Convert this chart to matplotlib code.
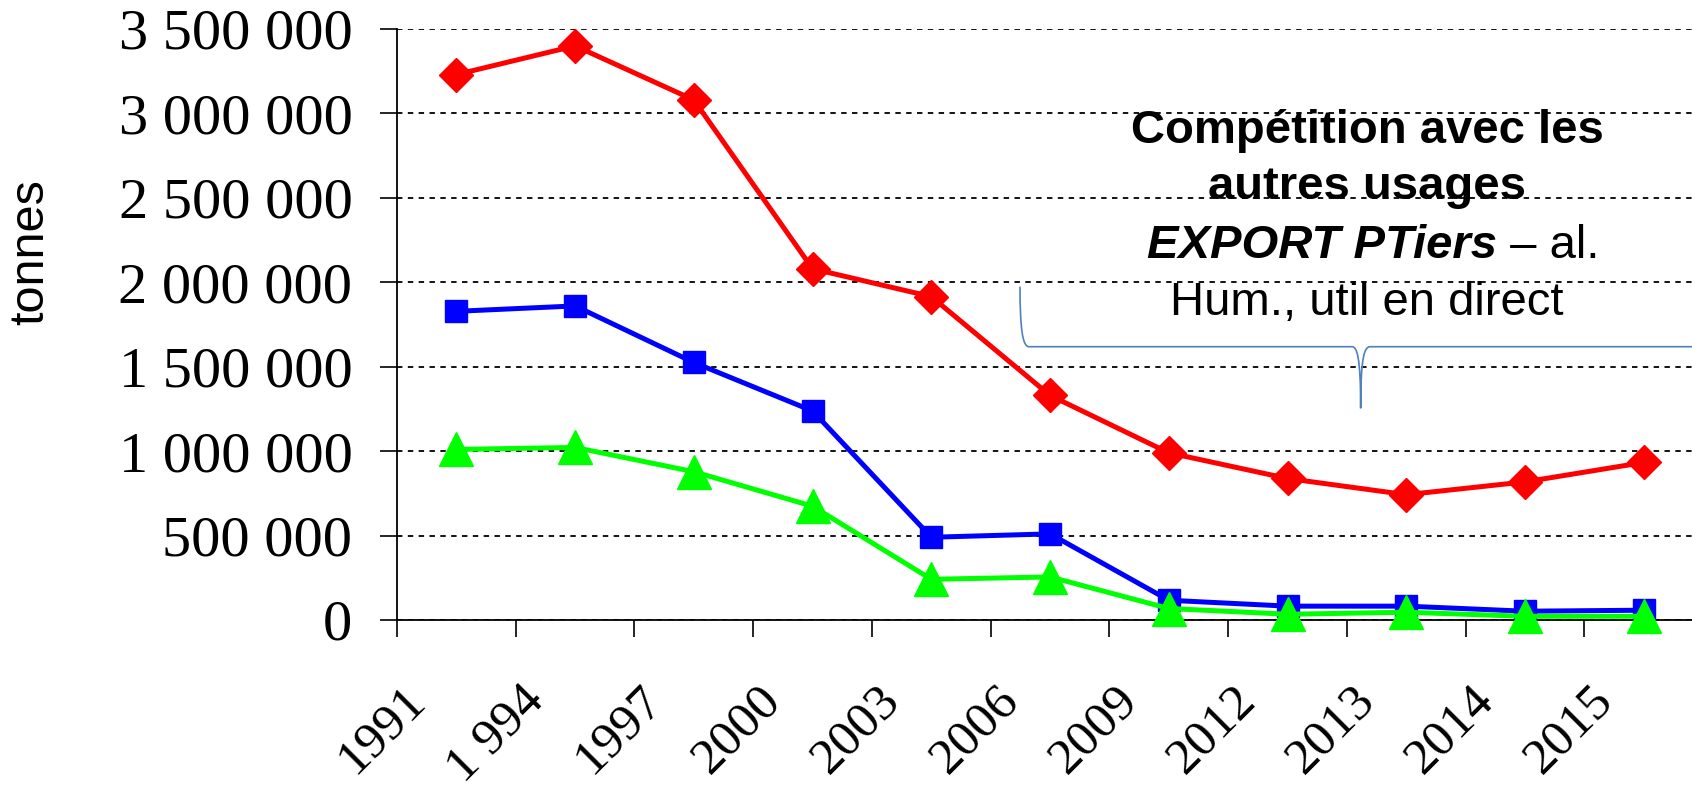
import matplotlib
matplotlib.use("Agg")
import matplotlib.pyplot as plt
from matplotlib.path import Path
from matplotlib.patches import PathPatch
from matplotlib.ticker import FuncFormatter, MultipleLocator, FixedLocator
from matplotlib.transforms import ScaledTranslation

# tonnages par année (lecture graphique)
years = ["1991", "1 994", "1997", "2000", "2003", "2006", "2009",
         "2012", "2013", "2014", "2015"]
series_red = [3230000, 3400000, 3080000, 2080000, 1915000, 1330000,
              990000, 838000, 742000, 818000, 933000]
series_blue = [1828000, 1860000, 1525000, 1238000, 490000, 510000,
               117000, 82000, 82000, 52000, 58000]
series_green = [1010000, 1022000, 878000, 674000, 241000, 255000,
                68000, 34000, 46000, 22000, 22000]

note_bold = ["Compétition avec les", "autres usages"]
note_mixed = ("EXPORT PTiers", " \u2013 al.")
note_plain = "Hum., util en direct"

SERIF = "Liberation Serif"
SANS = "Liberation Sans"

fig = plt.figure(figsize=(16.92, 7.88), dpi=100)
ax = fig.add_axes([0.2346, 0.2132, 0.772, 0.750])

x = list(range(len(years)))
ax.plot(x, series_red, color="#FF0000", lw=3.6, marker="D", ms=17.5,
        zorder=3, clip_on=False)
ax.plot(x, series_blue, color="#0000FF", lw=3.6, marker="s", ms=16.5,
        zorder=4, clip_on=False)
ax.plot(x, series_green, color="#00FF00", lw=3.6, marker="^", ms=25,
        zorder=5, clip_on=False)

ax.set_xlim(-0.5, len(years) - 0.5)
ax.set_ylim(0, 3500000)

# y axis: thousands separated by spaces
ax.yaxis.set_major_locator(MultipleLocator(500000))
ax.yaxis.set_major_formatter(FuncFormatter(lambda v, p: f"{int(v):,}".replace(",", " ")))
ax.tick_params(axis="y", direction="out", length=12, width=1.2, pad=20,
               labelsize=42)
for lab in ax.yaxis.get_majorticklabels():
    lab.set_family(SERIF)

# dotted horizontal gridlines
ax.yaxis.grid(True, color="black", linestyle=(0, (3, 3)), lw=1.3)
ax.set_axisbelow(True)

# x axis: ticks at category boundaries, labels at centres
ax.xaxis.set_major_locator(FixedLocator([i - 0.5 for i in range(len(years) + 1)]))
ax.xaxis.set_major_formatter(FuncFormatter(lambda v, p: ""))
ax.set_xticks(x, minor=True)
ax.set_xticklabels(years, minor=True)
ax.tick_params(axis="x", which="major", direction="out", length=12, width=1.2)
ax.tick_params(axis="x", which="minor", length=0, pad=41)
shift = ScaledTranslation(-0.55, 0, fig.dpi_scale_trans)
for lab in ax.xaxis.get_minorticklabels():
    lab.set_family(SERIF)
    lab.set_fontsize(37)
    lab.set_rotation(45)
    lab.set_rotation_mode("anchor")
    lab.set_ha("right")
    lab.set_va("top")
    lab.set_transform(lab.get_transform() + shift)

for side in ("top", "right"):
    ax.spines[side].set_visible(False)
for side in ("left", "bottom"):
    ax.spines[side].set_linewidth(1.3)
ax.yaxis.get_gridlines()[0].set_visible(False)

fig.text(31 / 1692, 1 - 252 / 788, "tonnes", rotation=90, family=SANS,
         fontsize=35, ha="center", va="center")

# annotation block
cx = 0.7427
ax.text(cx, 0.8077, note_bold[0], transform=ax.transAxes, family=SANS,
        fontsize=34, fontweight="bold", ha="center", va="baseline")
ax.text(cx, 0.7124, note_bold[1], transform=ax.transAxes, family=SANS,
        fontsize=34, fontweight="bold", ha="center", va="baseline")
ax.text(0.8423, 0.6130, note_mixed[0], transform=ax.transAxes, family=SANS,
        fontsize=34, fontweight="bold", style="italic", ha="right", va="baseline")
ax.text(0.8423, 0.6130, note_mixed[1], transform=ax.transAxes, family=SANS,
        fontsize=34, ha="left", va="baseline")
ax.text(cx, 0.5161, note_plain, transform=ax.transAxes, family=SANS,
        fontsize=34, ha="center", va="baseline")

# curly brace under the note
x0, xc, xl, xt, xr = 0.4770, 0.4839, 0.7312, 0.7378, 0.7450
x1 = 2 * xt - x0
ytop, yh, ytip = 0.5640, 0.4624, 0.3582
verts = [
    (x0, ytop), (x0, yh + 0.03), (x0 + 0.002, yh), (xc, yh),
    (xl, yh),
    (xt - 0.003, yh), (xt, yh - 0.015), (xt, ytip),
    (xt, ytip),
    (xt, yh - 0.015), (xt + 0.003, yh), (xr, yh),
    (x1 - (xc - x0), yh),
    (x1 - 0.002, yh), (x1, yh + 0.03), (x1, ytop),
]
codes = [Path.MOVETO, Path.CURVE4, Path.CURVE4, Path.CURVE4,
         Path.LINETO,
         Path.CURVE4, Path.CURVE4, Path.CURVE4,
         Path.MOVETO,
         Path.CURVE4, Path.CURVE4, Path.CURVE4,
         Path.LINETO,
         Path.CURVE4, Path.CURVE4, Path.CURVE4]
brace = PathPatch(Path(verts, codes), transform=ax.transAxes, fill=False,
                  edgecolor="#4F81BD", lw=1.2, clip_on=False, zorder=2)
ax.add_patch(brace)

fig.savefig("out.png", dpi=100, facecolor="white")
